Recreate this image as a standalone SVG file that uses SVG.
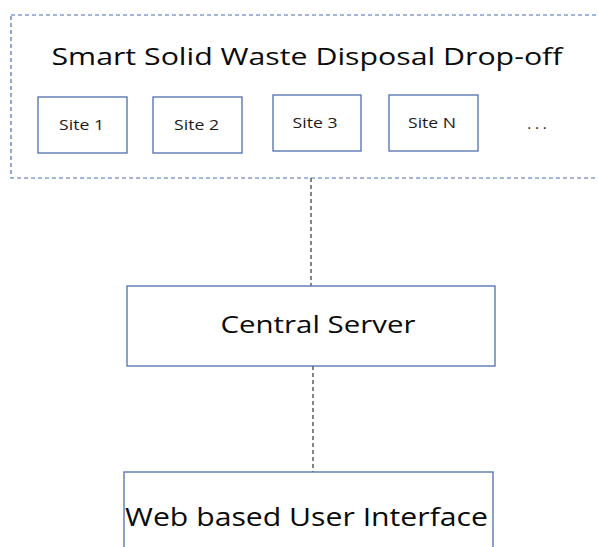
<svg xmlns="http://www.w3.org/2000/svg" width="598" height="547" viewBox="0 0 598 547">
<style>
.box{fill:#fff;stroke:#4F6FAD;stroke-width:1.3}
.site{font-family:"Open Sans","Noto Sans",sans-serif;font-size:15px;fill:#1a1a1a;text-anchor:middle}
.big{font-family:"Open Sans","Noto Sans",sans-serif;fill:#0a0a0a;text-anchor:middle}
.conn{stroke:#333;stroke-width:1.2;stroke-dasharray:4,3;fill:none}
</style>
<rect width="598" height="547" fill="#fff"/>
<g id="dropoff">
<rect x="11" y="15" width="620" height="163" fill="none" stroke="#4A6FB5" stroke-width="1.2" stroke-dasharray="4,3"/>
<text class="big" x="307" y="65" font-size="24" textLength="511" lengthAdjust="spacingAndGlyphs">Smart Solid Waste Disposal Drop-off</text>
</g>
<g id="site1"><rect class="box" x="38" y="97" width="89" height="56"/><text class="site" x="81.5" y="130" textLength="45" lengthAdjust="spacingAndGlyphs">Site 1</text></g>
<g id="site2"><rect class="box" x="153" y="97" width="89" height="56"/><text class="site" x="196.5" y="130" textLength="45" lengthAdjust="spacingAndGlyphs">Site 2</text></g>
<g id="site3"><rect class="box" x="273" y="95" width="88" height="56"/><text class="site" x="315" y="128" textLength="45" lengthAdjust="spacingAndGlyphs">Site 3</text></g>
<g id="siteN"><rect class="box" x="389" y="95" width="89" height="56"/><text class="site" x="432" y="128" textLength="48" lengthAdjust="spacingAndGlyphs">Site N</text></g>
<g id="more"><text class="site" x="537" y="129" font-size="16">. . .</text></g>
<g id="connectors">
<line class="conn" x1="311" y1="178" x2="311" y2="286"/>
<line class="conn" x1="313" y1="366" x2="313" y2="472"/>
</g>
<g id="server"><rect class="box" x="127" y="286" width="368" height="80"/><text class="big" x="318" y="333" font-size="23" textLength="195" lengthAdjust="spacingAndGlyphs">Central Server</text></g>
<g id="webui"><rect class="box" x="124" y="472" width="369" height="90"/><text class="big" x="306.5" y="526" font-size="26" textLength="363" lengthAdjust="spacingAndGlyphs">Web based User Interface</text></g>
</svg>
